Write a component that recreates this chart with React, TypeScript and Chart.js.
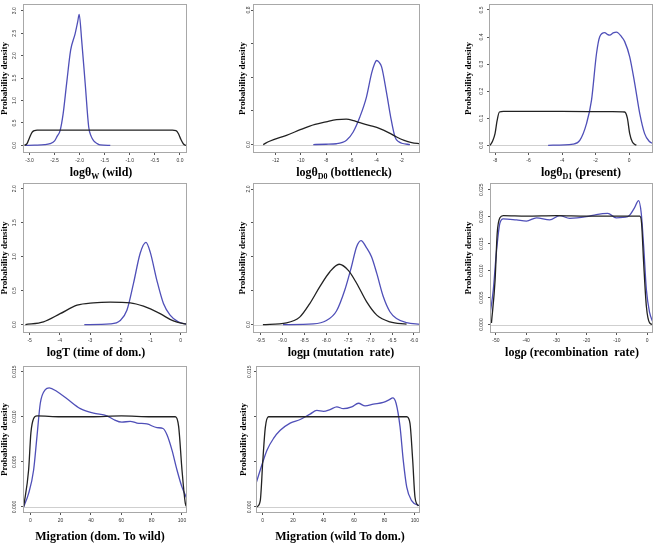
import React, { useEffect, useRef } from "react";
import { Chart, registerables } from "chart.js";

Chart.register(...registerables);

// ---------------- DATA ----------------
// Panel 1: log theta W (wild)
const wildPrior = [[-3.1,0],[-3.05,0.04],[-3.0,0.17],[-2.95,0.29],[-2.9,0.33],[-2.85,0.34],[-2.0,0.34],[-1.0,0.34],[-0.15,0.34],[-0.08,0.33],[-0.03,0.26],[0.02,0.13],[0.07,0.03],[0.12,0]];
const wildPost = [[-3.09,0],[-2.9,0.005],[-2.7,0.015],[-2.59,0.04],[-2.5,0.1],[-2.45,0.2],[-2.39,0.33],[-2.33,0.7],[-2.26,1.38],[-2.18,2.12],[-2.09,2.49],[-2.04,2.75],[-2.01,2.92],[-1.96,2.34],[-1.89,1.38],[-1.82,0.41],[-1.77,0.2],[-1.72,0.1],[-1.65,0.04],[-1.59,0.01],[-1.39,0]];
const wildXTicks = [-3.0,-2.5,-2.0,-1.5,-1.0,-0.5,0.0];
const wildYTicks = [0,0.5,1,1.5,2,2.5,3];
const wildYLabels = [0,0.5,1,1.5,2,2.5,3];

// Panel 2: log theta D0 (bottleneck)
const bottlePrior = [[-13.0,0],[-12.5,0.02],[-11.15,0.055],[-10,0.09],[-9.3,0.11],[-8,0.135],[-7.17,0.149],[-6.4,0.151],[-5.8,0.142],[-5.32,0.13],[-4.5,0.113],[-3.73,0.095],[-3,0.07],[-2.4,0.045],[-1.8,0.025],[-1.2,0.012],[-0.54,0.005]];
const bottlePost = [[-9.02,0],[-8,0.002],[-7.17,0.005],[-6.38,0.026],[-5.85,0.075],[-5.32,0.164],[-4.79,0.284],[-4.39,0.423],[-4.15,0.48],[-3.99,0.5],[-3.8,0.49],[-3.59,0.462],[-3.19,0.304],[-2.87,0.164],[-2.53,0.046],[-2.25,0.018],[-2.0,0.008],[-1.34,0]];
const bottleXTicks = [-12,-10,-8,-6,-4,-2];
const bottleYTicks = [0,0.2,0.4,0.6,0.8];
const bottleYLabels = [0,0.8];

// Panel 3: log theta D1 (present)
const presentPrior = [[-8.3,0],[-8.15,0.015],[-8.0,0.043],[-7.88,0.09],[-7.74,0.123],[-7.5,0.125],[-4,0.125],[-1,0.124],[-0.26,0.123],[-0.1,0.1],[0.04,0.043],[0.2,0.012],[0.44,0]];
const presentPost = [[-4.83,0],[-3.34,0.004],[-2.94,0.018],[-2.54,0.08],[-2.24,0.167],[-1.94,0.34],[-1.75,0.401],[-1.45,0.416],[-1.3,0.41],[-1.15,0.407],[-0.95,0.415],[-0.75,0.418],[-0.45,0.401],[-0.26,0.383],[0.04,0.327],[0.34,0.228],[0.64,0.117],[0.93,0.043],[1.2,0.015],[1.43,0.006]];
const presentXTicks = [-8,-6,-4,-2,0];
const presentYTicks = [0,0.1,0.2,0.3,0.4,0.5];
const presentYLabels = [0,0.1,0.2,0.3,0.4,0.5];

// Panel 4: log T (time of domestication)
const timePrior = [[-5.14,0],[-4.54,0.04],[-3.99,0.16],[-3.43,0.285],[-2.89,0.32],[-2.33,0.33],[-1.67,0.32],[-1.23,0.27],[-0.68,0.16],[-0.24,0.053],[0.2,0.005]];
const timePost = [[-3.19,0],[-2.33,0.01],[-2.0,0.06],[-1.78,0.21],[-1.56,0.61],[-1.34,1.05],[-1.15,1.21],[-1.01,1.07],[-0.79,0.655],[-0.57,0.31],[-0.35,0.14],[-0.08,0.04],[0.2,0.005]];
const timeXTicks = [-5,-4,-3,-2,-1,0];
const timeYTicks = [0,0.5,1,1.5,2];
const timeYLabels = [0,0.5,1,1.5,2];

// Panel 5: log mu (mutation rate)
const mutPrior = [[-9.45,0],[-8.91,0.025],[-8.61,0.11],[-8.38,0.31],[-8.15,0.56],[-7.92,0.78],[-7.71,0.89],[-7.5,0.8],[-7.31,0.61],[-7.08,0.335],[-6.85,0.14],[-6.55,0.04],[-6.17,0.007]];
const mutPost = [[-8.99,0],[-8.3,0.01],[-8.0,0.06],[-7.77,0.2],[-7.58,0.51],[-7.43,0.85],[-7.31,1.15],[-7.21,1.24],[-7.08,1.13],[-6.97,1.0],[-6.85,0.755],[-6.7,0.41],[-6.55,0.19],[-6.4,0.09],[-6.17,0.03],[-5.86,0.003]];
const mutXTicks = [-9.5,-9.0,-8.5,-8.0,-7.5,-7.0,-6.5,-6.0];
const mutYTicks = [0,0.5,1,1.5,2];
const mutYLabels = [0,2];

// Panel 6: log rho (recombination rate)
const recPrior = [[-51.5,0.0003],[-50.3,0.0082],[-49.6,0.0169],[-48.7,0.0198],[-47.6,0.0202],[-40,0.0201],[-30,0.0202],[-20,0.0201],[-10,0.0201],[-2.4,0.0201],[-1.8,0.0188],[-1.1,0.0113],[-0.2,0.0033],[0.87,0.0003],[1.9,0]];
const recPost = [[-52,0.0017],[-50.9,0.0064],[-49.8,0.0138],[-48.7,0.0188],[-47.6,0.0196],[-43.2,0.0194],[-39.9,0.0192],[-36.6,0.0198],[-32.2,0.0194],[-28.9,0.0202],[-25.6,0.0197],[-20.1,0.02],[-16.8,0.0204],[-13.0,0.0206],[-10.2,0.0198],[-6.4,0.02],[-4.2,0.0216],[-2.8,0.023],[-1.9,0.0206],[-1.1,0.0144],[-0.2,0.0064],[0.87,0.0022],[1.98,0.0004]];
const recXTicks = [-50,-40,-30,-20,-10,0];
const recYTicks = [0,0.005,0.01,0.015,0.02,0.025];
const recYLabels = [0,0.005,0.01,0.015,0.02,0.025];

// Panel 7: Migration (dom. To wild)
const migDWPrior = [[-4.4,0],[-1.1,0.0041],[0.4,0.0082],[2.2,0.0098],[4.4,0.0101],[20,0.01],[40,0.01],[60,0.0101],[80,0.01],[95.6,0.01],[97.8,0.0089],[100,0.0041],[102.2,0.0004],[103.3,0]];
const migDWPost = [[-4.4,0],[-1.1,0.0015],[2.2,0.0041],[4.4,0.0078],[6.6,0.0115],[9.9,0.013],[12.5,0.0132],[17.6,0.0128],[24.2,0.012],[33,0.0109],[41.7,0.0104],[50.6,0.0101],[54.9,0.0097],[60.4,0.0094],[65.9,0.0095],[70.3,0.0093],[76.9,0.0092],[83.5,0.0088],[87.5,0.0087],[90.1,0.008],[93.4,0.0063],[96.7,0.0041],[100,0.0022],[103.3,0.0009]];
const migXTicks = [0,20,40,60,80,100];
const migYTicks = [0,0.005,0.01,0.015];
const migDWYLabels = [0,0.005,0.01,0.015];

// Panel 8: Migration (wild To dom.)
const migWDPrior = [[-3.7,0],[-1.5,0.0007],[0.2,0.0052],[1.8,0.0088],[3.9,0.01],[20,0.01],[40,0.01],[60,0.01],[80,0.01],[94.6,0.01],[96.7,0.0093],[98.5,0.0052],[100,0.0011],[102.2,0.0001]];
const migWDPost = [[-4.3,0.0026],[-1.5,0.0041],[2.9,0.0063],[7.2,0.0076],[11.6,0.0085],[18.1,0.0093],[24.7,0.0097],[31.2,0.0103],[35.6,0.0107],[40,0.0106],[44.3,0.0108],[48.7,0.0111],[53,0.0109],[58.5,0.0111],[62.9,0.0115],[67.3,0.0112],[72.7,0.0114],[79.2,0.0116],[83.2,0.0119],[85.4,0.0121],[87.6,0.0115],[90.2,0.0089],[92.3,0.0052],[94.6,0.0022],[97.8,0.0007],[103.3,0.0001]];
const migWDYLabels = [0,0.015];

// ---------------- LAYOUT / STYLE ----------------
const SERIF = '"Liberation Serif", "Times New Roman", serif';
const SANS = '"Liberation Sans", Arial, sans-serif';
const PRIOR_COLOR = "#222222";
const POST_COLOR = "#4f4fb8";

type Part = { t: string; sub?: boolean };
type Spec = {
  cell: [number, number, number, number];
  box: [number, number, number, number];
  xr: [number, number];
  yr: [number, number];
  xTicks: number[];
  xDigits: number;
  yTicks: number[];
  yLabels: number[];
  yDigits: number;
  prior: number[][];
  post: number[][];
  title: Part[];
  titleX: number;
  titleY: number;
  yTitleX: number;
  yLabelX: number;
};

const specs: Spec[] = [
  { cell: [0, 0, 220, 180], box: [23, 4, 187, 153], xr: [-3.13, 0.14], yr: [-0.17, 3.15], xTicks: wildXTicks, xDigits: 1, yTicks: wildYTicks, yLabels: wildYLabels, yDigits: 1, prior: wildPrior, post: wildPost,
    title: [{ t: "log\u03b8" }, { t: "W", sub: true }, { t: " (wild)" }], titleX: 101, titleY: 176, yTitleX: 5, yLabelX: 15 },
  { cell: [220, 0, 220, 180], box: [33, 4, 200, 153], xr: [-13.81, -0.54], yr: [-0.05, 0.836], xTicks: bottleXTicks, xDigits: 0, yTicks: bottleYTicks, yLabels: bottleYLabels, yDigits: 1, prior: bottlePrior, post: bottlePost,
    title: [{ t: "log\u03b8" }, { t: "D0", sub: true }, { t: " (bottleneck)" }], titleX: 124, titleY: 176, yTitleX: 23, yLabelX: 29 },
  { cell: [440, 0, 219, 180], box: [49, 4, 213, 153], xr: [-8.36, 1.43], yr: [-0.0285, 0.522], xTicks: presentXTicks, xDigits: 0, yTicks: presentYTicks, yLabels: presentYLabels, yDigits: 1, prior: presentPrior, post: presentPost,
    title: [{ t: "log\u03b8" }, { t: "D1", sub: true }, { t: " (present)" }], titleX: 141, titleY: 176, yTitleX: 29, yLabelX: 42 },
  { cell: [0, 180, 220, 180], box: [23, 3, 187, 153], xr: [-5.22, 0.21], yr: [-0.124, 2.084], xTicks: timeXTicks, xDigits: 0, yTicks: timeYTicks, yLabels: timeYLabels, yDigits: 1, prior: timePrior, post: timePost,
    title: [{ t: "logT (time of dom.)" }], titleX: 96, titleY: 176, yTitleX: 5, yLabelX: 15 },
  { cell: [220, 180, 220, 180], box: [33, 3, 200, 153], xr: [-9.676, -5.863], yr: [-0.124, 2.089], xTicks: mutXTicks, xDigits: 1, yTicks: mutYTicks, yLabels: mutYLabels, yDigits: 1, prior: mutPrior, post: mutPost,
    title: [{ t: "log\u03bc (mutation  rate)" }], titleX: 121, titleY: 176, yTitleX: 23, yLabelX: 29 },
  { cell: [440, 180, 219, 180], box: [50, 3, 213, 153], xr: [-51.98, 1.98], yr: [-0.00156, 0.02625], xTicks: recXTicks, xDigits: 0, yTicks: recYTicks, yLabels: recYLabels, yDigits: 3, prior: recPrior, post: recPost,
    title: [{ t: "log\u03c1 (recombination  rate)" }], titleX: 132, titleY: 176, yTitleX: 29, yLabelX: 42 },
  { cell: [0, 360, 220, 187], box: [23, 6, 187, 153], xr: [-4.8, 103.3], yr: [-0.00067, 0.01563], xTicks: migXTicks, xDigits: 0, yTicks: migYTicks, yLabels: migDWYLabels, yDigits: 3, prior: migDWPrior, post: migDWPost,
    title: [{ t: "Migration (dom. To wild)" }], titleX: 100, titleY: 180, yTitleX: 5, yLabelX: 15 },
  { cell: [220, 360, 220, 187], box: [36, 6, 200, 153], xr: [-4.3, 103.3], yr: [-0.00067, 0.01563], xTicks: migXTicks, xDigits: 0, yTicks: migYTicks, yLabels: migWDYLabels, yDigits: 3, prior: migWDPrior, post: migWDPost,
    title: [{ t: "Migration (wild To dom.)" }], titleX: 120, titleY: 180, yTitleX: 24, yLabelX: 30 },
];

function makeDecor(spec: Spec) {
  return {
    id: "panelDecor",
    beforeDatasetsDraw(chart: any) {
      const { ctx, chartArea: a, scales } = chart;
      const y0 = Math.round(scales.y.getPixelForValue(0)) + 0.5;
      ctx.save();
      ctx.strokeStyle = "#cfcfcf";
      ctx.lineWidth = 1;
      ctx.beginPath();
      ctx.moveTo(a.left, y0);
      ctx.lineTo(a.right, y0);
      ctx.stroke();
      ctx.restore();
    },
    afterDraw(chart: any) {
      const { ctx, chartArea: a, scales } = chart;
      ctx.save();
      // box
      ctx.strokeStyle = "#a8a8a8";
      ctx.lineWidth = 1;
      ctx.strokeRect(a.left + 0.5, a.top + 0.5, a.right - a.left - 1, a.bottom - a.top - 1);
      // y tick labels (rotated, parallel to axis)
      ctx.fillStyle = "#333";
      ctx.font = `5px ${SANS}`;
      ctx.textAlign = "center";
      ctx.textBaseline = "middle";
      for (const v of spec.yLabels) {
        const py = scales.y.getPixelForValue(v);
        ctx.save();
        ctx.translate(spec.yLabelX, py);
        ctx.rotate(-Math.PI / 2);
        ctx.fillText(v.toFixed(spec.yDigits), 0, 0);
        ctx.restore();
      }
      // y title
      ctx.fillStyle = "#000";
      ctx.font = `bold 9px ${SERIF}`;
      ctx.save();
      ctx.translate(spec.yTitleX, (a.top + a.bottom) / 2);
      ctx.rotate(-Math.PI / 2);
      ctx.fillText("Probability density", 0, 0);
      ctx.restore();
      // x title with subscripts
      const mainFont = `bold 12px ${SERIF}`;
      const subFont = `bold 8px ${SERIF}`;
      let total = 0;
      const widths = spec.title.map((p) => {
        ctx.font = p.sub ? subFont : mainFont;
        const w = ctx.measureText(p.t).width;
        total += w;
        return w;
      });
      let x = spec.titleX - total / 2;
      ctx.textAlign = "left";
      ctx.textBaseline = "alphabetic";
      spec.title.forEach((p, i) => {
        ctx.font = p.sub ? subFont : mainFont;
        ctx.fillText(p.t, x, spec.titleY + (p.sub ? 3 : 0));
        x += widths[i];
      });
      ctx.restore();
    },
  };
}

function Panel({ spec }: { spec: Spec }) {
  const ref = useRef<HTMLCanvasElement | null>(null);
  useEffect(() => {
    if (!ref.current) return;
    const [, , w, h] = spec.cell;
    const [bl, bt, br, bb] = spec.box;
    const toPts = (arr: number[][]) => arr.map(([x, y]) => ({ x, y }));
    const chart = new Chart(ref.current, {
      type: "scatter",
      data: {
        datasets: [
          { data: toPts(spec.prior), showLine: true, borderColor: PRIOR_COLOR, borderWidth: 1.3, pointRadius: 0, cubicInterpolationMode: "monotone" } as any,
          { data: toPts(spec.post), showLine: true, borderColor: POST_COLOR, borderWidth: 1.3, pointRadius: 0, cubicInterpolationMode: "monotone" } as any,
        ],
      },
      plugins: [makeDecor(spec)],
      options: {
        responsive: false,
        animation: false,
        devicePixelRatio: 1,
        events: [],
        layout: { padding: { left: bl, top: bt, right: w - br, bottom: 0 } },
        plugins: { legend: { display: false }, tooltip: { enabled: false } },
        scales: {
          x: {
            type: "linear",
            min: spec.xr[0],
            max: spec.xr[1],
            afterBuildTicks: (s: any) => { s.ticks = spec.xTicks.map((v) => ({ value: v })); },
            afterFit: (s: any) => { s.height = h - bb; },
            border: { display: false },
            grid: { display: true, drawOnChartArea: false, drawTicks: true, tickLength: 2, tickColor: "#555", lineWidth: 1 },
            ticks: { autoSkip: false, maxRotation: 0, minRotation: 0, padding: 2.5, color: "#333", font: { size: 5, family: SANS }, callback: (v: any) => Number(v).toFixed(spec.xDigits) },
          },
          y: {
            type: "linear",
            min: spec.yr[0],
            max: spec.yr[1],
            afterBuildTicks: (s: any) => { s.ticks = spec.yTicks.map((v) => ({ value: v })); },
            afterFit: (s: any) => { s.width = 0; },
            border: { display: false },
            grid: { display: true, drawOnChartArea: false, drawTicks: true, tickLength: 2, tickColor: "#555", lineWidth: 1 },
            ticks: { display: false },
          },
        },
      } as any,
    });
    return () => chart.destroy();
  }, [spec]);
  const [l, t, w, h] = spec.cell;
  return (
    <canvas
      ref={ref}
      width={w}
      height={h}
      style={{ position: "absolute", left: l, top: t, width: w, height: h, display: "block" }}
    />
  );
}

export default function App() {
  return (
    <div style={{ position: "absolute", left: 0, top: 0, width: 659, height: 547, background: "#fff", overflow: "hidden" }}>
      {specs.map((s, i) => (
        <Panel key={i} spec={s} />
      ))}
    </div>
  );
}
